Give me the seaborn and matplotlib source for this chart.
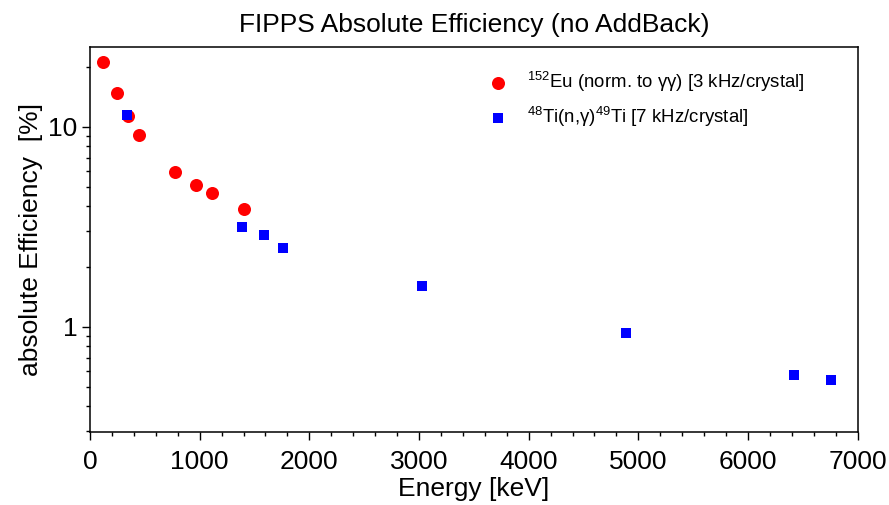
import numpy as np
import pandas as pd
import matplotlib
matplotlib.use("Agg")
import matplotlib.pyplot as plt
import matplotlib.ticker as mticker
import seaborn as sns

# Données
eu_energy = [122, 245, 344, 444, 779, 964, 1112, 1408]
eu_eff = [21.0, 14.7, 11.3, 9.1, 5.96, 5.1, 4.66, 3.89]

ti_energy = [340, 1382, 1585, 1762, 3025, 4885, 6418, 6760]
ti_eff = [11.4, 3.16, 2.88, 2.48, 1.60, 0.93, 0.575, 0.543]

eu_label = r"$^{\mathregular{152}}$Eu (norm. to γγ) [3 kHz/crystal]"
ti_label = r"$^{\mathregular{48}}$Ti(n,γ)$^{\mathregular{49}}$Ti [7 kHz/crystal]"

sns.set_style("ticks")
plt.rcParams['font.family'] = ['Liberation Sans', 'DejaVu Sans']
plt.rcParams['mathtext.fontset'] = 'custom'
plt.rcParams['mathtext.rm'] = 'Liberation Sans'
plt.rcParams['mathtext.it'] = 'Liberation Sans:italic'
plt.rcParams['text.color'] = 'black'
plt.rcParams['axes.labelcolor'] = 'black'

eu_df = pd.DataFrame({"Energy": eu_energy, "Eff": eu_eff})
ti_df = pd.DataFrame({"Energy": ti_energy, "Eff": ti_eff})

fig = plt.figure(figsize=(8.89, 5.05), dpi=100)
ax = fig.add_axes([0.1012, 0.1451, 0.8636, 0.7612])

sns.scatterplot(data=eu_df, x="Energy", y="Eff", ax=ax, marker="o", color="#ff0000",
                s=88, linewidth=0, label=eu_label, zorder=3)
sns.scatterplot(data=ti_df, x="Energy", y="Eff", ax=ax, marker="s", color="#0000ff",
                s=62, linewidth=0, label=ti_label, zorder=4)

ax.set_yscale("log")
ax.set_xlim(0, 7000)
ax.set_ylim(0.2985, 25)

ax.xaxis.set_major_locator(mticker.MultipleLocator(1000))
ax.xaxis.set_minor_locator(mticker.MultipleLocator(200))
ax.yaxis.set_major_locator(mticker.FixedLocator([1, 10]))
ax.yaxis.set_minor_locator(mticker.LogLocator(base=10, subs=np.arange(2, 10), numticks=10))
ax.yaxis.set_major_formatter(mticker.FuncFormatter(lambda v, p: f"{v:g}"))
ax.yaxis.set_minor_formatter(mticker.NullFormatter())

ax.tick_params(which="major", direction="out", length=6, width=1, labelsize=19,
               colors="black", pad=3)
ax.tick_params(axis="x", which="major", pad=7)
ax.tick_params(which="minor", direction="out", length=3, width=1, colors="black")
for sp in ax.spines.values():
    sp.set_visible(True)
    sp.set_linewidth(1.1)
    sp.set_color("black")

ax.set_xlabel("Energy [keV]", fontsize=19, labelpad=2)
ax.set_ylabel("absolute Efficiency  [%]", fontsize=19, labelpad=4)
ax.set_title("FIPPS Absolute Efficiency (no AddBack)", fontsize=19, pad=11)

leg = ax.legend(loc="upper left", bbox_to_anchor=(0.485, 0.985), frameon=False,
                fontsize=13.4, handletextpad=0.6, labelspacing=0.58, markerscale=1.0)

fig.savefig("out.png", dpi=100)
